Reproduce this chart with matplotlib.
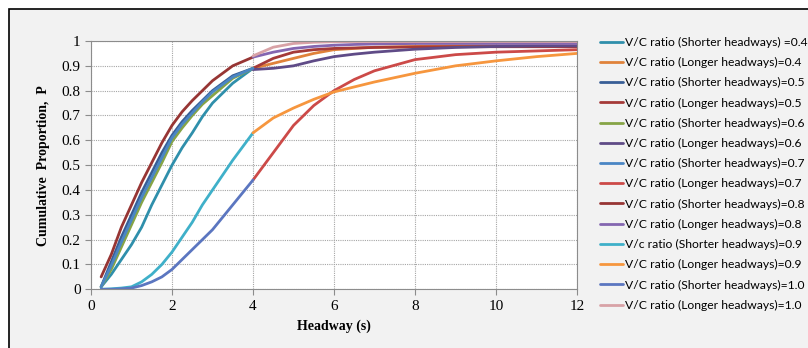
import numpy as np
import matplotlib
matplotlib.use("Agg")
import matplotlib.pyplot as plt
from matplotlib.patches import Rectangle

# headway values (s)
x_short = [0.25, 0.5, 0.75, 1, 1.25, 1.5, 1.75, 2, 2.25, 2.5, 2.75, 3, 3.5, 4]
x_long = [4, 4.5, 5, 5.5, 6, 6.5, 7, 8, 9, 10, 11, 12]

# shorter headways curves
s04 = [0.01, 0.06, 0.12, 0.18, 0.25, 0.34, 0.42, 0.50, 0.57, 0.63, 0.695, 0.75, 0.83, 0.89]
s05 = [0.01, 0.11, 0.21, 0.30, 0.39, 0.47, 0.55, 0.62, 0.675, 0.72, 0.76, 0.80, 0.86, 0.89]
s06 = [0.01, 0.08, 0.17, 0.26, 0.35, 0.43, 0.51, 0.595, 0.65, 0.70, 0.745, 0.78, 0.85, 0.89]
s07 = [0.01, 0.095, 0.19, 0.28, 0.37, 0.45, 0.53, 0.61, 0.665, 0.71, 0.755, 0.795, 0.855, 0.89]
s08 = [0.05, 0.14, 0.25, 0.34, 0.43, 0.51, 0.59, 0.66, 0.715, 0.76, 0.80, 0.84, 0.90, 0.935]
s09 = [0.0, 0.002, 0.005, 0.01, 0.03, 0.06, 0.10, 0.15, 0.21, 0.27, 0.34, 0.40, 0.52, 0.63]
s10 = [0.0, 0.0, 0.002, 0.005, 0.015, 0.03, 0.05, 0.08, 0.12, 0.16, 0.20, 0.24, 0.34, 0.44]

# longer headways curves
l04 = [0.89, 0.91, 0.93, 0.95, 0.965, 0.97, 0.975, 0.978, 0.98, 0.98, 0.98, 0.98]
l05 = [0.89, 0.93, 0.955, 0.965, 0.97, 0.972, 0.974, 0.976, 0.977, 0.977, 0.977, 0.977]
l06 = [0.885, 0.89, 0.90, 0.92, 0.937, 0.947, 0.955, 0.967, 0.974, 0.978, 0.98, 0.98]
l07 = [0.44, 0.55, 0.66, 0.74, 0.80, 0.845, 0.88, 0.925, 0.945, 0.955, 0.96, 0.965]
l08 = [0.935, 0.955, 0.97, 0.978, 0.983, 0.986, 0.988, 0.99, 0.99, 0.99, 0.99, 0.99]
l09 = [0.63, 0.69, 0.73, 0.765, 0.795, 0.815, 0.835, 0.87, 0.90, 0.92, 0.937, 0.95]
l10 = [0.94, 0.975, 0.99, 0.995, 0.997, 0.998, 0.998, 0.998, 0.998, 0.998, 0.998, 0.998]

series = [
    ("V/C ratio (Shorter headways) =0.4", x_short, s04, "#2f8fab"),
    ("V/C ratio (Longer headways)=0.4", x_long, l04, "#e0823a"),
    ("V/C ratio (Shorter headways)=0.5", x_short, s05, "#385e96"),
    ("V/C ratio (Longer headways)=0.5", x_long, l05, "#a53a38"),
    ("V/C ratio (Shorter headways)=0.6", x_short, s06, "#86a446"),
    ("V/C ratio (Longer headways)=0.6", x_long, l06, "#5f4b87"),
    ("V/C ratio (Shorter headways)=0.7", x_short, s07, "#4a86c4"),
    ("V/C ratio (Longer headways)=0.7", x_long, l07, "#cc4a48"),
    ("V/C ratio (Shorter headways)=0.8", x_short, s08, "#973534"),
    ("V/C ratio (Longer headways)=0.8", x_long, l08, "#8466b0"),
    ("V/c ratio (Shorter headways)=0.9", x_short, s09, "#3fb0c9"),
    ("V/C ratio (Longer headways)=0.9", x_long, l09, "#f6963e"),
    ("V/C ratio (Shorter headways)=1.0", x_short, s10, "#5b76c0"),
    ("V/C ratio (Longer headways)=1.0", x_long, l10, "#d8a2a6"),
]

W, H = 808, 348
fig = plt.figure(figsize=(W / 100, H / 100), dpi=100, facecolor="white")
# gray chart frame with black border on top/left
fig.patches.append(Rectangle((9 / W, -0.05), 1.1, 1 - 9 / H + 0.05, transform=fig.transFigure,
                             facecolor="#f2f2f2", edgecolor="black", linewidth=1.2,
                             zorder=-10))

ax = fig.add_axes([91 / W, 1 - 289.3 / H, (577 - 91) / W, (289.3 - 41) / H], zorder=5)
ax.set_facecolor("white")

for label, xs, ys, c in series:
    ax.plot(xs, ys, color=c, lw=2.0, label=label, solid_capstyle="round")

ax.set_xlim(0, 12)
ax.set_ylim(0, 1)
ax.set_xticks(np.arange(0, 13, 2))
ax.set_yticks(np.arange(0, 1.01, 0.1))
ax.set_yticklabels(["0", "0.1", "0.2", "0.3", "0.4", "0.5", "0.6", "0.7", "0.8", "0.9", "1"])
ax.grid(True, color="#a6a6a6", linestyle=(0, (1, 1)), linewidth=0.8)
ax.set_axisbelow(True)
for sp in ax.spines.values():
    sp.set_color("#8c8c8c")
ax.tick_params(colors="#8c8c8c", length=4, width=0.8, labelcolor="black",
               labelsize=11)
for t in ax.get_xticklabels() + ax.get_yticklabels():
    t.set_fontfamily("Liberation Serif")

ax.set_xlabel("Headway (s)", fontfamily="Liberation Serif", fontweight="bold",
              fontsize=10, labelpad=5)
ax.set_ylabel("Cumulative  Proportion,  P", fontfamily="Liberation Serif",
              fontweight="bold", fontsize=10, labelpad=8)

leg = ax.legend(loc="upper left", bbox_to_anchor=(595 / W, 1 - 32 / H),
                bbox_transform=fig.transFigure, frameon=False,
                prop={"family": "Lato", "size": 8.7}, handlelength=1.9,
                handletextpad=0.2, labelspacing=0.76, borderaxespad=0)

fig.savefig("out.png", dpi=100, facecolor="white")
